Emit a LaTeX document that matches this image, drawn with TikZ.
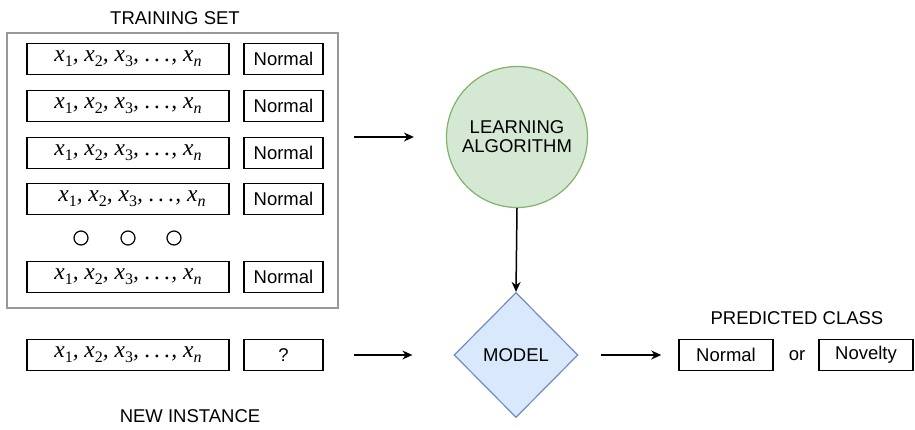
\documentclass[tikz,border=0pt]{standalone}
\usepackage{amsmath}
\usepackage[no-math]{fontspec}
\setmainfont{Liberation Sans}
\newfontfamily\xfont{Liberation Serif}
\usepackage{tikz}
\usetikzlibrary{arrows.meta,shapes.geometric}

\definecolor{algfill}{HTML}{D5E8D4}
\definecolor{algline}{HTML}{82B366}
\definecolor{modfill}{HTML}{DAE8FC}
\definecolor{modline}{HTML}{6C8EBF}

% feature vector x_1, ..., x_n
\newcommand{\xidx}[1]{\raisebox{-5pt}{\fontsize{16}{16}\selectfont #1}}
\newcommand{\xvec}{x\xidx{\upshape 1}, x\xidx{\upshape 2},
    x\xidx{\upshape 3}, .\kern4pt.\kern4pt.\kern1pt, x\xidx{n}}

\begin{document}
\begin{tikzpicture}[x=1pt,y=-1pt,>={Stealth[length=10pt,width=9pt]},
    txt/.style={font=\fontsize{18.5}{21}\selectfont},
    featbox/.style={draw,line width=1.5pt,minimum width=202pt,minimum height=31pt,
        font=\xfont\itshape\fontsize{23.5}{26}\selectfont},
    classbox/.style={draw,line width=1.5pt,minimum width=79pt,minimum height=31pt,txt},
    arr/.style={->,line width=1.5pt}]

\useasboundingbox (0,0) rectangle (915,430);

% Training set
\node[draw=black!40,line width=2pt,minimum width=331pt,minimum height=275pt]
    (set) at (172.5,170.5) {};
\node[txt] (title) at (175,18) {TRAINING SET};

\foreach \y/\s [count=\i] in {59/0,106/0,153/0,199/8,277/0}{
    \node[featbox] (f\i) at (128,\y) {\hspace*{\s pt}\xvec};
    \node[classbox] (c\i) at (283.5,\y) {Normal};
}

% Dots
\foreach \x in {81,128,174}{
    \draw[line width=1.2pt] (\x,238) circle (7);
}

% New instance
\node[featbox] (fnew) at (128,355) {\xvec};
\node[classbox] (cnew) at (283.5,355) {?};
\node[txt] (newlbl) at (190,416) {NEW INSTANCE};

% Learning algorithm and model
\node[circle,draw=algline,fill=algfill,line width=1.2pt,minimum size=141pt,
    txt,align=center] (alg) at (517,137) {LEARNING\\[-2pt]ALGORITHM};
\node[diamond,draw=modline,fill=modfill,line width=1.2pt,minimum width=124pt,
    minimum height=125pt,inner sep=0pt,txt] (model) at (516,355) {MODEL};

% Predicted class
\node[txt] (predlbl) at (797,318) {PREDICTED CLASS};
\node[classbox,minimum width=94pt] (pnorm) at (726,355) {Normal};
\node[txt] (or) at (797,356) {or};
\node[classbox,minimum width=94pt] (pnov) at (866,355) {Novelty};

% Arrows
\draw[arr,shorten <=15pt,shorten >=32pt] (set.east |- alg.west) -- (alg.west);
\draw[arr] (alg.south) -- (model.north);
\draw[arr,shorten <=30pt,shorten >=41pt] (cnew.east) -- (model.west);
\draw[arr,shorten <=22pt,shorten >=17pt] (model.east) -- (pnorm.west);

\end{tikzpicture}
\end{document}
